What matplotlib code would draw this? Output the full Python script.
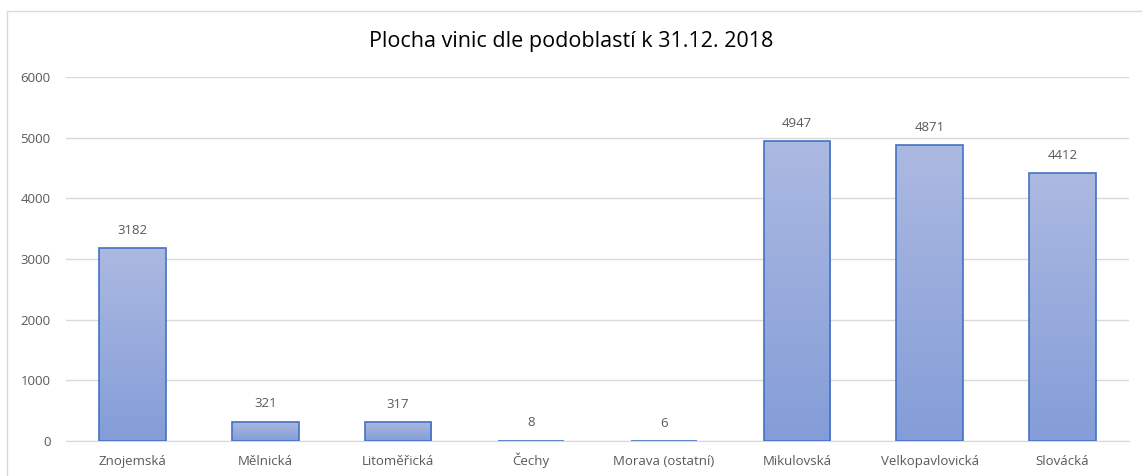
import numpy as np
import matplotlib
matplotlib.use("Agg")
import matplotlib.pyplot as plt
from matplotlib.patches import Rectangle

categories = ["Znojemská", "Mělnická", "Litoměřická", "Čechy", "Morava (ostatní)",
              "Mikulovská", "Velkopavlovická", "Slovácká"]
area_ha = [3182, 321, 317, 8, 6, 4947, 4871, 4412]
title = "Plocha vinic dle podoblastí k 31.12. 2018"

plt.rcParams["font.family"] = ["Open Sans", "DejaVu Sans"]

TEXT_GREY = "#595959"
GRID_GREY = "#d9d9d9"
EDGE_BLUE = "#4472C4"
TOP_COLOR = np.array([172, 185, 225]) / 255
BOTTOM_COLOR = np.array([132, 157, 216]) / 255


def gradient_bars(ax, bars):
    """Fill each bar with a vertical light-to-dark gradient."""
    t = np.linspace(0, 1, 256)[:, None, None]
    img = TOP_COLOR * (1 - t) + BOTTOM_COLOR * t
    for b in bars:
        x0, y0 = b.get_x(), b.get_y()
        w, h = b.get_width(), b.get_height()
        im = ax.imshow(img, extent=[x0, x0 + w, y0, y0 + h], aspect="auto",
                       origin="upper", zorder=2, interpolation="bilinear")
        im.set_clip_path(b)


def main():
    fig = plt.figure(figsize=(11.42, 4.76), dpi=100)
    fig.patches.append(Rectangle((7 / 1142, -0.1), 1.2, 1 - 11 / 476 + 0.1,
                                 transform=fig.transFigure, fill=False,
                                 edgecolor=GRID_GREY, linewidth=1))
    ax = fig.add_axes([66 / 1142, 1 - 441 / 476, 1063 / 1142, 364 / 476])

    x = np.arange(len(categories))
    bars = ax.bar(x, area_ha, width=0.5, facecolor="none",
                  edgecolor=EDGE_BLUE, linewidth=1.2, zorder=4)
    gradient_bars(ax, bars)

    for xi, v in zip(x, area_ha):
        ax.annotate(str(v), (xi, v), xytext=(0, 8), textcoords="offset points",
                    ha="center", va="bottom", fontsize=9.5, color=TEXT_GREY)

    ax.set_xlim(-0.5, len(categories) - 0.5)
    ax.set_ylim(0, 6000)
    ax.set_yticks(range(0, 6001, 1000))
    ax.set_xticks(x)
    ax.set_xticklabels(categories, va="baseline")
    ax.yaxis.grid(True, color=GRID_GREY, linewidth=1, zorder=0)
    ax.set_axisbelow(True)
    for side in ["top", "right", "left"]:
        ax.spines[side].set_visible(False)
    ax.spines["bottom"].set_color(GRID_GREY)
    ax.spines["bottom"].set_zorder(1)
    ax.tick_params(axis="both", length=0, labelsize=9.5, colors=TEXT_GREY)
    ax.tick_params(axis="y", pad=11)
    ax.tick_params(axis="x", pad=17)

    fig.text(0.5, 1 - 42 / 476, title, ha="center", va="center",
             fontsize=15.5, color="#000000")
    fig.savefig("out.png", dpi=100)


if __name__ == "__main__":
    main()
